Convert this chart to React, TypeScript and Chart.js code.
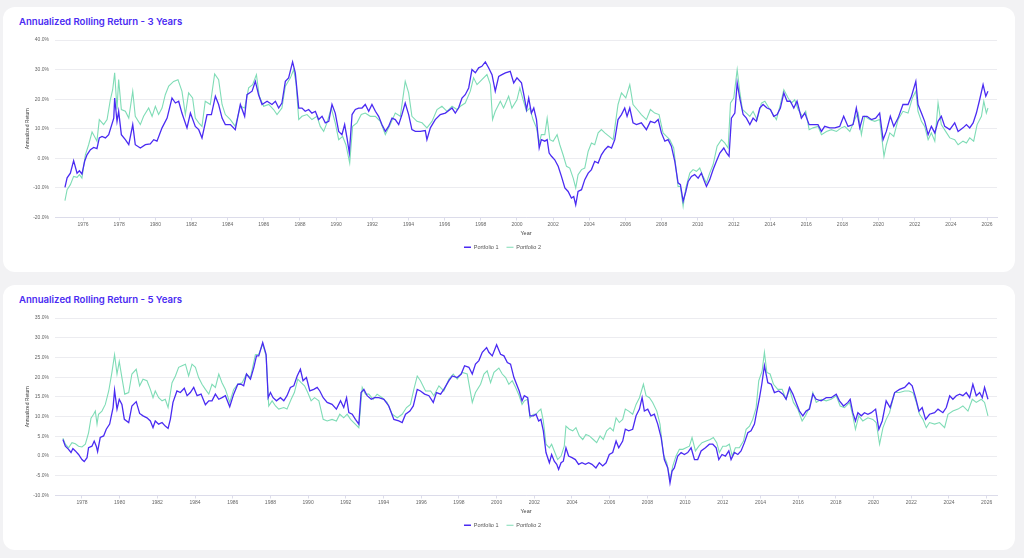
import React, { useEffect, useRef } from "react";
import { Chart, registerables } from "chart.js";

Chart.register(...registerables);

// ---------------- DATA ----------------
const seriesNames = ["Portfolio 1", "Portfolio 2"];

const chartTitles = [
  "Annualized Rolling Return - 3 Years",
  "Annualized Rolling Return - 5 Years",
];

const yearTicks3 = [1976, 1978, 1980, 1982, 1984, 1986, 1988, 1990, 1992, 1994, 1996, 1998, 2000, 2002, 2004, 2006, 2008, 2010, 2012, 2014, 2016, 2018, 2020, 2022, 2024, 2026];
const yearTicks5 = [1978, 1980, 1982, 1984, 1986, 1988, 1990, 1992, 1994, 1996, 1998, 2000, 2002, 2004, 2006, 2008, 2010, 2012, 2014, 2016, 2018, 2020, 2022, 2024, 2026];

// [year, annualized return %]
const p1Rolling3: [number, number][] = [
  [1975.00,-9.8],[1975.12,-6.6],[1975.30,-5.0],[1975.48,-0.8],[1975.67,-5.0],[1975.80,-4.2],[1975.94,-5.3],[1976.09,-1.0],[1976.22,1.2],[1976.41,2.9],[1976.59,3.7],[1976.77,3.3],[1976.90,6.9],[1977.05,7.4],[1977.24,6.9],[1977.42,8.0],[1977.70,13.6],[1977.75,20.4],[1977.88,12.5],[1977.97,15.9],[1978.12,8.0],[1978.34,6.3],[1978.53,4.6],[1978.75,11.4],[1978.89,4.6],[1979.17,3.5],[1979.45,4.6],[1979.72,4.9],[1979.91,6.3],[1980.09,5.8],[1980.37,10.3],[1980.65,13.6],[1980.92,20.4],[1981.11,18.7],[1981.29,19.3],[1981.47,15.3],[1981.75,10.3],[1981.94,15.3],[1982.21,10.8],[1982.40,9.7],[1982.58,6.9],[1982.86,14.8],[1983.10,14.8],[1983.32,21.0],[1983.50,18.2],[1983.69,13.6],[1983.87,11.4],[1984.15,11.4],[1984.42,9.7],[1984.70,18.2],[1984.94,14.2],[1985.07,21.5],[1985.35,22.7],[1985.53,26.0],[1985.71,21.5],[1985.90,18.2],[1986.18,19.3],[1986.45,18.2],[1986.64,19.3],[1986.82,17.0],[1987.00,18.7],[1987.19,26.0],[1987.37,27.2],[1987.59,32.6],[1987.74,28.9],[1987.93,17.0],[1988.11,17.0],[1988.29,15.9],[1988.48,16.5],[1988.66,15.3],[1988.85,15.9],[1989.03,13.1],[1989.22,14.2],[1989.40,12.0],[1989.59,12.5],[1989.77,18.2],[1989.95,15.3],[1990.14,9.1],[1990.32,8.0],[1990.47,11.4],[1990.60,6.9],[1990.73,1.8],[1990.88,14.8],[1991.06,16.5],[1991.24,17.0],[1991.43,17.0],[1991.61,18.2],[1991.80,15.9],[1991.98,18.2],[1992.17,15.9],[1992.35,14.2],[1992.53,11.4],[1992.72,9.1],[1992.90,10.8],[1993.09,13.6],[1993.27,13.1],[1993.46,11.4],[1993.64,14.8],[1993.82,18.7],[1994.01,14.8],[1994.19,9.7],[1994.38,9.1],[1994.65,9.1],[1994.93,9.4],[1995.02,6.3],[1995.21,10.3],[1995.48,13.1],[1995.76,14.8],[1996.04,15.3],[1996.41,17.0],[1996.59,15.3],[1996.77,17.0],[1996.96,20.4],[1997.14,21.5],[1997.33,23.8],[1997.51,30.0],[1997.70,28.9],[1997.88,30.6],[1998.06,31.1],[1998.25,32.6],[1998.43,30.6],[1998.62,28.3],[1998.80,22.7],[1998.99,27.7],[1999.17,28.3],[1999.36,28.9],[1999.63,29.4],[1999.82,25.5],[2000.00,27.2],
  [2000.25,25.5],[2000.38,21.5],[2000.53,16.5],[2000.65,20.4],[2000.80,15.3],[2000.93,17.0],[2001.08,13.1],[2001.23,3.5],[2001.35,6.3],[2001.54,5.8],[2001.67,6.3],[2001.78,1.8],[2001.91,0.7],[2002.09,-0.5],[2002.28,-2.7],[2002.46,-6.1],[2002.65,-10.0],[2002.83,-11.2],[2003.01,-13.4],[2003.14,-12.9],[2003.25,-15.7],[2003.38,-11.2],[2003.57,-10.6],[2003.75,-7.2],[2003.94,-5.0],[2004.12,-3.8],[2004.30,-1.0],[2004.49,-1.6],[2004.67,1.2],[2004.86,2.9],[2005.04,4.1],[2005.23,3.5],[2005.41,6.3],[2005.59,13.1],[2005.78,14.8],[2005.96,17.0],[2006.09,14.2],[2006.24,17.0],[2006.42,12.0],[2006.61,11.4],[2006.88,12.0],[2007.16,9.7],[2007.38,12.5],[2007.62,12.0],[2007.81,13.1],[2007.99,8.6],[2008.18,5.8],[2008.36,6.3],[2008.54,4.1],[2008.73,-1.0],[2008.91,-8.3],[2009.04,-8.9],[2009.19,-14.5],[2009.34,-11.2],[2009.47,-7.8],[2009.65,-6.1],[2009.83,-5.5],[2010.02,-6.7],[2010.20,-5.0],[2010.33,-7.2],[2010.48,-9.5],[2010.66,-7.2],[2010.85,-3.8],[2011.03,-1.0],[2011.22,1.8],[2011.44,3.5],[2011.59,1.8],[2011.73,0.7],[2011.86,13.6],[2012.05,15.3],[2012.18,25.5],[2012.32,20.4],[2012.51,14.8],[2012.69,13.6],[2012.88,11.4],[2013.06,13.6],[2013.24,12.5],[2013.43,17.0],[2013.61,18.2],[2013.83,17.0],[2014.02,16.5],[2014.20,14.2],[2014.39,14.8],[2014.57,17.0],[2014.76,22.1],[2014.94,19.3],[2015.12,19.3],[2015.31,17.0],[2015.49,19.3],[2015.73,13.6],[2015.92,15.3],[2016.16,11.4],[2016.38,11.4],[2016.65,11.4],[2016.84,9.1],[2017.02,10.8],[2017.30,10.3],[2017.58,10.3],[2017.85,10.8],[2018.07,14.2],[2018.31,10.8],[2018.59,11.4],[2018.77,17.0],[2018.96,10.3],[2019.14,14.2],[2019.36,14.2],[2019.60,13.1],[2019.84,13.6],[2020.06,15.3],[2020.25,6.3],[2020.43,9.1],[2020.65,14.2],[2020.84,10.8],[2021.08,13.6],[2021.35,18.2],[2021.63,18.2],[2021.82,21.0],[2022.06,26.0],[2022.18,18.2],[2022.37,15.3],[2022.55,12.5],[2022.74,8.0],[2022.92,10.8],[2023.11,8.6],[2023.29,12.5],[2023.47,14.2],[2023.66,10.8],[2023.94,9.7],[2024.21,12.0],[2024.40,9.1],[2024.67,10.3],[2024.86,11.4],[2025.04,10.3],[2025.23,12.0],[2025.41,15.3],[2025.59,19.8],[2025.78,24.9],[2025.93,21.0],[2026.05,22.7],
];

const p2Rolling3: [number, number][] = [
  [1975.00,-14.3],[1975.12,-10.6],[1975.30,-8.9],[1975.48,-6.1],[1975.67,-6.4],[1975.80,-5.5],[1975.94,-6.7],[1976.13,1.2],[1976.31,4.6],[1976.50,8.9],[1976.68,6.9],[1976.77,5.8],[1976.90,13.1],[1977.14,11.4],[1977.33,13.1],[1977.51,19.8],[1977.64,23.2],[1977.75,28.9],[1977.88,16.5],[1977.97,26.6],[1978.12,16.5],[1978.34,15.9],[1978.53,13.6],[1978.75,22.7],[1978.89,14.2],[1979.17,11.4],[1979.35,14.2],[1979.63,17.0],[1979.82,14.2],[1980.00,17.6],[1980.18,14.8],[1980.37,17.0],[1980.55,21.5],[1980.74,24.4],[1981.01,26.0],[1981.25,26.6],[1981.47,22.7],[1981.66,14.8],[1981.84,22.1],[1982.06,20.4],[1982.21,13.6],[1982.40,12.0],[1982.58,10.8],[1982.76,19.3],[1983.04,18.2],[1983.28,28.5],[1983.50,26.6],[1983.69,18.2],[1983.87,14.8],[1984.15,13.1],[1984.42,10.8],[1984.70,17.6],[1984.94,17.0],[1985.16,23.8],[1985.38,24.9],[1985.59,28.3],[1985.75,21.0],[1985.99,17.6],[1986.27,18.2],[1986.54,16.5],[1986.73,14.8],[1987.00,17.0],[1987.19,24.4],[1987.47,27.2],[1987.65,30.0],[1987.78,25.5],[1987.93,13.1],[1988.11,14.2],[1988.39,14.8],[1988.66,13.1],[1988.94,14.2],[1989.12,10.8],[1989.31,9.1],[1989.49,12.0],[1989.73,17.0],[1989.95,12.0],[1990.14,6.3],[1990.36,7.4],[1990.54,4.6],[1990.75,-1.6],[1990.91,10.8],[1991.15,12.0],[1991.39,14.8],[1991.61,15.3],[1991.89,14.2],[1992.17,14.2],[1992.44,12.5],[1992.72,8.0],[1992.99,11.4],[1993.27,15.3],[1993.55,14.2],[1993.82,26.0],[1994.01,22.1],[1994.19,14.2],[1994.47,12.5],[1994.75,12.0],[1995.02,10.3],[1995.30,12.5],[1995.58,16.5],[1995.85,17.6],[1996.13,15.9],[1996.41,17.6],[1996.68,16.5],[1996.87,17.6],[1997.14,18.7],[1997.42,22.7],[1997.60,27.2],[1997.79,24.9],[1998.06,26.6],[1998.34,28.3],[1998.53,24.9],[1998.65,13.1],[1998.80,15.9],[1999.08,19.3],[1999.26,17.0],[1999.54,21.0],[1999.72,17.0],[2000.00,19.8],
  [2000.16,23.8],[2000.34,19.8],[2000.53,15.9],[2000.71,17.0],[2000.89,13.1],[2001.08,10.3],[2001.23,5.2],[2001.35,8.0],[2001.54,8.0],[2001.67,13.6],[2001.82,6.3],[2002.00,5.8],[2002.22,8.0],[2002.37,4.6],[2002.55,1.2],[2002.74,-2.7],[2002.92,-3.3],[2003.11,-6.7],[2003.25,-10.0],[2003.38,-5.5],[2003.57,-3.8],[2003.75,-3.3],[2003.94,2.4],[2004.12,5.2],[2004.30,4.6],[2004.49,8.6],[2004.67,9.7],[2004.86,8.6],[2005.10,7.4],[2005.32,6.3],[2005.59,18.2],[2005.78,22.1],[2006.02,20.4],[2006.24,24.9],[2006.42,18.2],[2006.65,16.5],[2006.88,14.8],[2007.16,13.1],[2007.38,16.5],[2007.62,15.3],[2007.86,14.8],[2008.08,8.6],[2008.27,7.4],[2008.45,6.3],[2008.67,3.5],[2008.91,-9.5],[2009.04,-9.5],[2009.19,-16.2],[2009.34,-10.0],[2009.56,-5.0],[2009.74,-3.8],[2009.93,-4.4],[2010.11,-3.3],[2010.29,-6.1],[2010.48,-8.3],[2010.66,-5.0],[2010.85,-2.1],[2011.07,4.1],[2011.31,6.3],[2011.49,5.2],[2011.68,3.5],[2011.81,18.7],[2011.99,20.4],[2012.18,30.0],[2012.32,22.7],[2012.47,16.5],[2012.69,15.3],[2012.88,14.2],[2013.06,15.9],[2013.28,13.1],[2013.52,18.7],[2013.71,19.3],[2013.94,17.0],[2014.17,14.8],[2014.35,13.1],[2014.57,18.2],[2014.76,23.2],[2015.00,20.4],[2015.18,18.7],[2015.36,19.8],[2015.55,16.5],[2015.79,14.2],[2015.97,15.9],[2016.16,9.7],[2016.38,10.3],[2016.65,10.8],[2016.84,8.0],[2017.12,9.1],[2017.39,9.7],[2017.67,9.1],[2017.94,10.3],[2018.13,10.8],[2018.41,9.1],[2018.68,13.1],[2018.87,15.3],[2019.05,8.0],[2019.23,14.2],[2019.51,13.1],[2019.79,12.5],[2020.06,13.1],[2020.30,0.7],[2020.43,4.6],[2020.62,8.6],[2020.84,7.4],[2021.08,13.1],[2021.35,15.9],[2021.63,15.3],[2021.87,20.4],[2022.06,22.7],[2022.18,15.9],[2022.37,12.5],[2022.55,10.8],[2022.74,6.3],[2022.92,8.6],[2023.11,5.8],[2023.29,18.7],[2023.47,11.4],[2023.71,9.1],[2023.94,6.9],[2024.21,6.3],[2024.40,4.6],[2024.67,5.8],[2024.86,5.2],[2025.04,6.9],[2025.26,5.8],[2025.45,11.4],[2025.69,14.2],[2025.82,19.3],[2025.96,15.3],[2026.05,17.0],
];

const p1Rolling5: [number, number][] = [
  [1976.99,4.2],[1977.12,2.5],[1977.29,1.7],[1977.42,0.9],[1977.52,1.9],[1977.65,1.3],[1977.82,0.4],[1978.00,-0.9],[1978.12,-1.4],[1978.27,-0.4],[1978.35,2.1],[1978.53,2.5],[1978.65,3.8],[1978.76,2.5],[1978.83,1.1],[1978.97,4.7],[1979.15,5.1],[1979.29,6.8],[1979.47,8.1],[1979.65,12.3],[1979.73,16.7],[1979.86,11.9],[1979.98,14.4],[1980.12,13.1],[1980.25,9.3],[1980.48,8.5],[1980.65,12.7],[1980.88,13.8],[1981.06,10.8],[1981.24,10.2],[1981.45,9.7],[1981.63,8.9],[1981.77,7.2],[1981.89,8.9],[1982.07,8.1],[1982.25,8.5],[1982.42,7.6],[1982.57,7.0],[1982.69,9.3],[1982.83,13.6],[1983.04,16.5],[1983.22,16.1],[1983.43,17.2],[1983.58,15.3],[1983.75,16.1],[1983.93,17.4],[1984.11,15.3],[1984.32,15.7],[1984.55,13.0],[1984.73,14.0],[1984.90,14.0],[1985.08,15.7],[1985.26,14.4],[1985.43,14.8],[1985.61,15.3],[1985.84,12.5],[1986.05,15.7],[1986.27,18.2],[1986.44,18.2],[1986.58,17.8],[1986.73,20.8],[1986.94,19.5],[1987.12,22.5],[1987.26,25.4],[1987.38,25.4],[1987.59,28.8],[1987.77,25.8],[1987.88,14.8],[1988.00,16.1],[1988.14,14.8],[1988.32,14.0],[1988.53,14.8],[1988.71,14.0],[1988.88,15.3],[1989.06,17.4],[1989.24,17.8],[1989.42,20.3],[1989.59,22.0],[1989.73,19.1],[1989.91,19.9],[1990.09,16.5],[1990.30,16.9],[1990.48,17.4],[1990.62,16.5],[1990.80,14.8],[1991.01,13.6],[1991.27,13.1],[1991.50,11.9],[1991.72,14.0],[1991.89,12.3],[1992.04,14.8],[1992.16,11.0],[1992.34,10.6],[1992.51,9.3],[1992.69,8.1],[1992.81,16.1],[1992.96,16.9],[1993.13,15.3],[1993.35,14.4],[1993.52,14.8],[1993.75,14.8],[1994.02,14.4],[1994.28,12.7],[1994.55,9.3],[1994.81,8.9],[1994.99,8.5],[1995.17,10.6],[1995.40,11.4],[1995.58,12.7],[1995.79,16.9],[1995.96,16.5],[1996.18,15.7],[1996.41,15.3],[1996.64,13.6],[1996.81,16.1],[1997.03,15.7],[1997.20,16.9],[1997.47,19.1],[1997.65,20.3],[1997.91,19.9],[1998.12,20.8],[1998.30,22.9],[1998.53,22.5],[1998.71,20.8],[1998.88,23.3],[1999.06,24.2],[1999.24,26.3],[1999.47,27.5],[1999.59,26.3],[1999.77,25.4],[2000.00,28.2],[2000.21,25.8],[2000.39,25.4],[2000.57,23.7],[2000.74,23.3],[2000.92,19.9],
  [2001.20,16.5],[2001.35,14.0],[2001.47,15.3],[2001.65,14.8],[2001.77,10.2],[2001.95,10.2],[2002.09,10.6],[2002.23,8.9],[2002.35,9.3],[2002.48,6.4],[2002.62,0.9],[2002.80,-1.7],[2002.92,0.4],[2003.06,-1.3],[2003.19,-2.1],[2003.29,-3.4],[2003.42,-1.7],[2003.54,-1.3],[2003.68,2.1],[2003.82,0.0],[2004.00,-0.4],[2004.18,-0.9],[2004.35,-2.1],[2004.53,-1.7],[2004.71,-2.1],[2004.88,-1.7],[2005.06,-2.1],[2005.27,-3.0],[2005.45,-1.7],[2005.63,-2.5],[2005.81,-1.7],[2005.98,0.4],[2006.16,0.9],[2006.34,3.8],[2006.48,2.1],[2006.69,3.8],[2006.83,6.8],[2007.01,6.4],[2007.22,6.8],[2007.40,10.2],[2007.58,11.9],[2007.72,14.8],[2007.84,11.4],[2008.02,11.9],[2008.19,10.2],[2008.37,10.6],[2008.55,8.1],[2008.73,4.7],[2008.90,-0.9],[2009.08,-3.0],[2009.20,-6.8],[2009.31,-3.8],[2009.43,-3.0],[2009.61,0.0],[2009.79,0.9],[2009.96,0.4],[2010.14,0.9],[2010.32,2.1],[2010.50,-0.9],[2010.67,-0.9],[2010.85,1.3],[2011.08,2.1],[2011.29,3.0],[2011.47,3.0],[2011.65,2.1],[2011.79,-0.9],[2011.96,0.4],[2012.14,0.0],[2012.32,1.3],[2012.44,-0.9],[2012.62,0.9],[2012.80,0.4],[2012.97,1.3],[2013.15,3.4],[2013.33,5.9],[2013.50,6.4],[2013.68,8.1],[2013.81,11.4],[2013.95,14.8],[2014.07,18.2],[2014.21,22.9],[2014.39,18.6],[2014.57,18.2],[2014.74,16.1],[2014.97,16.5],[2015.19,15.7],[2015.36,14.4],[2015.54,17.4],[2015.72,15.7],[2015.89,13.6],[2016.07,11.4],[2016.25,10.2],[2016.42,11.4],[2016.60,11.9],[2016.78,15.7],[2016.96,14.4],[2017.22,14.0],[2017.49,14.8],[2017.75,14.8],[2018.02,15.7],[2018.19,14.0],[2018.41,12.7],[2018.64,13.6],[2018.76,14.4],[2018.90,11.0],[2019.04,8.9],[2019.17,11.0],[2019.35,10.2],[2019.52,11.0],[2019.70,10.6],[2019.88,11.0],[2020.11,11.9],[2020.28,6.8],[2020.46,8.9],[2020.67,14.0],[2020.88,12.3],[2021.12,16.1],[2021.38,16.9],[2021.65,17.4],[2021.88,18.6],[2022.05,17.8],[2022.23,14.8],[2022.41,11.4],[2022.58,12.3],[2022.76,9.3],[2022.97,10.6],[2023.24,11.0],[2023.42,11.9],[2023.68,11.0],[2023.86,12.3],[2024.04,15.3],[2024.21,14.4],[2024.39,15.3],[2024.57,15.7],[2024.74,15.3],[2024.92,16.1],[2025.10,14.8],[2025.27,18.2],[2025.45,15.3],[2025.63,16.1],[2025.77,14.8],[2025.89,17.4],[2026.07,14.4],
];

const p2Rolling5: [number, number][] = [
  [1976.99,4.5],[1977.12,3.0],[1977.29,2.1],[1977.47,3.4],[1977.65,3.1],[1977.82,2.5],[1978.00,2.3],[1978.18,3.0],[1978.35,5.9],[1978.48,9.6],[1978.62,10.6],[1978.71,11.4],[1978.80,8.1],[1978.88,10.6],[1979.06,11.4],[1979.24,13.1],[1979.42,16.5],[1979.59,21.2],[1979.73,25.7],[1979.86,20.8],[1979.98,24.0],[1980.12,19.9],[1980.27,15.7],[1980.48,16.1],[1980.65,20.8],[1980.88,22.0],[1981.06,17.8],[1981.24,19.5],[1981.45,19.1],[1981.63,16.9],[1981.77,14.8],[1981.89,16.5],[1982.07,14.8],[1982.25,14.0],[1982.42,14.4],[1982.57,12.3],[1982.78,18.6],[1982.96,20.3],[1983.13,22.5],[1983.31,22.9],[1983.49,23.3],[1983.66,20.3],[1983.84,23.3],[1984.02,22.5],[1984.19,19.9],[1984.37,18.2],[1984.55,16.9],[1984.73,15.7],[1984.90,18.2],[1985.08,17.4],[1985.26,20.8],[1985.43,18.6],[1985.61,16.9],[1985.84,13.6],[1986.05,16.9],[1986.27,18.2],[1986.50,18.6],[1986.73,20.8],[1986.94,19.9],[1987.20,25.7],[1987.38,25.8],[1987.59,28.4],[1987.77,25.4],[1987.91,12.7],[1988.09,14.0],[1988.27,12.7],[1988.44,11.9],[1988.71,12.3],[1988.88,11.9],[1989.10,14.4],[1989.27,16.1],[1989.45,19.5],[1989.63,18.6],[1989.81,17.8],[1989.98,16.1],[1990.16,14.0],[1990.34,14.8],[1990.57,14.0],[1990.80,9.3],[1991.01,8.9],[1991.27,9.3],[1991.50,8.9],[1991.68,10.6],[1991.89,9.7],[1992.07,10.6],[1992.25,9.3],[1992.42,8.5],[1992.69,7.2],[1992.87,17.4],[1993.04,15.7],[1993.22,15.7],[1993.45,14.4],[1993.66,15.7],[1993.93,14.8],[1994.19,13.6],[1994.46,10.6],[1994.73,9.7],[1994.99,10.6],[1995.22,12.3],[1995.43,13.1],[1995.61,16.9],[1995.79,20.3],[1995.96,19.1],[1996.23,16.5],[1996.50,16.5],[1996.67,15.3],[1996.94,17.8],[1997.20,16.5],[1997.47,19.5],[1997.70,20.8],[1997.91,19.5],[1998.18,21.2],[1998.44,20.8],[1998.71,13.6],[1998.88,16.1],[1999.15,18.2],[1999.33,20.8],[1999.50,21.6],[1999.68,18.6],[1999.86,21.2],[2000.12,22.3],[2000.30,20.8],[2000.48,19.9],[2000.65,18.2],[2000.83,19.1],[2001.01,17.4],
  [2001.20,15.3],[2001.35,13.1],[2001.47,14.0],[2001.65,14.4],[2001.77,9.7],[2001.95,10.6],[2002.09,10.6],[2002.23,11.4],[2002.35,11.9],[2002.48,8.9],[2002.62,3.0],[2002.80,2.1],[2002.92,3.0],[2003.06,1.3],[2003.24,-0.9],[2003.42,0.0],[2003.59,2.5],[2003.68,7.6],[2003.86,6.8],[2004.04,6.4],[2004.21,7.2],[2004.39,5.1],[2004.57,4.2],[2004.74,5.5],[2004.92,5.1],[2005.13,4.2],[2005.31,3.4],[2005.49,5.1],[2005.66,4.2],[2005.84,6.4],[2006.02,7.2],[2006.19,6.4],[2006.34,9.7],[2006.51,8.5],[2006.69,9.3],[2006.83,11.9],[2007.01,11.4],[2007.22,10.6],[2007.40,13.1],[2007.58,14.8],[2007.79,18.2],[2007.93,15.3],[2008.11,14.8],[2008.28,13.6],[2008.50,11.4],[2008.67,8.1],[2008.85,0.4],[2009.03,-1.7],[2009.20,-5.9],[2009.35,-2.5],[2009.52,0.0],[2009.70,1.7],[2009.88,1.7],[2010.05,2.1],[2010.23,2.5],[2010.37,4.7],[2010.55,1.3],[2010.73,2.5],[2010.90,3.4],[2011.12,3.8],[2011.33,4.2],[2011.50,4.7],[2011.68,3.4],[2011.82,0.9],[2012.00,2.5],[2012.18,2.5],[2012.35,3.0],[2012.50,0.0],[2012.67,2.1],[2012.88,2.1],[2013.10,3.8],[2013.24,6.8],[2013.42,7.6],[2013.59,9.3],[2013.77,12.3],[2013.91,19.1],[2014.09,21.6],[2014.21,26.3],[2014.34,21.2],[2014.51,20.8],[2014.69,18.2],[2014.92,16.9],[2015.15,16.9],[2015.36,14.4],[2015.54,16.9],[2015.75,13.6],[2015.98,11.9],[2016.21,8.9],[2016.39,10.2],[2016.60,12.3],[2016.78,16.1],[2016.96,13.6],[2017.22,14.4],[2017.49,14.0],[2017.75,14.4],[2018.02,15.3],[2018.23,12.7],[2018.46,12.3],[2018.73,13.6],[2018.90,10.2],[2019.04,6.8],[2019.22,10.2],[2019.43,8.9],[2019.70,9.7],[2019.96,9.3],[2020.14,8.5],[2020.32,3.0],[2020.50,7.2],[2020.67,9.3],[2020.85,11.0],[2021.12,16.1],[2021.38,16.1],[2021.65,16.5],[2021.88,16.5],[2022.09,16.1],[2022.27,13.6],[2022.44,10.6],[2022.62,9.3],[2022.80,7.2],[2022.97,8.5],[2023.24,8.1],[2023.50,8.5],[2023.77,7.2],[2023.95,10.6],[2024.21,11.4],[2024.48,11.9],[2024.74,12.7],[2025.01,11.4],[2025.24,14.4],[2025.45,13.6],[2025.72,14.4],[2025.89,13.6],[2026.07,10.2],
];

// ---------------- STYLE ----------------
const PURPLE = "#4a2bf2";
const GREEN = "#7fdcb6";
const TITLE_COLOR = "#4a2bf2";

type CardProps = {
  title: string;
  top: number;
  s1: [number, number][];
  s2: [number, number][];
  xMin: number;
  xMax: number;
  xTicks: number[];
  yMin: number;
  yMax: number;
  yStep: number;
};

function ChartCard(props: CardProps) {
  const ref = useRef<HTMLCanvasElement | null>(null);
  useEffect(() => {
    if (!ref.current) return;
    const chart = new Chart(ref.current, {
      type: "line",
      data: {
        datasets: [
          {
            label: seriesNames[0],
            data: props.s1.map(([x, y]) => ({ x, y })),
            borderColor: PURPLE,
            backgroundColor: PURPLE,
            borderWidth: 1.3,
            pointRadius: 0,
            tension: 0,
          },
          {
            label: seriesNames[1],
            data: props.s2.map(([x, y]) => ({ x, y })),
            borderColor: GREEN,
            backgroundColor: GREEN,
            borderWidth: 1.1,
            pointRadius: 0,
            tension: 0,
          },
        ],
      },
      options: {
        animation: false,
        responsive: true,
        maintainAspectRatio: false,
        layout: { padding: { top: 10, right: 13, left: 0, bottom: 0 } },
        plugins: {
          tooltip: { enabled: false },
          legend: {
            position: "bottom",
            labels: {
              usePointStyle: true,
              pointStyle: "line",
              pointStyleWidth: 7,
              boxHeight: 5,
              padding: 8,
              color: "#555",
              font: { size: 5.5 },
            },
          },
        },
        scales: {
          x: {
            type: "linear",
            min: props.xMin,
            max: props.xMax,
            afterBuildTicks: (s: any) => {
              s.ticks = props.xTicks.map((v) => ({ value: v }));
            },
            afterFit: (s: any) => {
              s.height = 19;
            },
            ticks: {
              autoSkip: false,
              maxRotation: 0,
              padding: 1,
              color: "#666",
              font: { size: 5 },
              callback: (v: any) => String(v),
            },
            grid: {
              drawOnChartArea: false,
              drawTicks: true,
              tickLength: 3,
              color: "#dcdcea",
            },
            border: { display: true, color: "#dcdcea" },
            title: {
              display: true,
              text: "Year",
              color: "#444",
              font: { size: 5.5 },
              padding: 0,
            },
          },
          y: {
            min: props.yMin,
            max: props.yMax,
            afterFit: (s: any) => {
              s.width = 47;
            },
            ticks: {
              stepSize: props.yStep,
              padding: 6,
              color: "#666",
              font: { size: 5 },
              callback: (v: any) => Number(v).toFixed(1) + "%",
            },
            grid: { color: "#ececf0", drawTicks: false },
            border: { display: false },
            title: {
              display: true,
              text: "Annualized Return",
              color: "#444",
              font: { size: 5 },
              padding: { top: 17, bottom: 0 },
            },
          },
        },
      },
    } as any);
    return () => chart.destroy();
  }, []);

  return (
    <>
      <div
        style={{
          position: "absolute",
          left: 3,
          top: props.top - 23,
          width: 1012,
          height: 265,
          background: "#ffffff",
          borderRadius: 12,
        }}
      >
        <div
          style={{
            position: "absolute",
            left: 16,
            top: 8,
            height: 14,
            lineHeight: "14px",
            fontFamily: "Inter, 'Noto Sans', sans-serif",
            fontWeight: 600,
            fontSize: 9.6,
            color: TITLE_COLOR,
            whiteSpace: "nowrap",
          }}
        >
          {props.title}
        </div>
      </div>
      <div
        style={{
          position: "absolute",
          left: 8,
          top: props.top,
          width: 1002,
          height: 230,
        }}
      >
        <canvas ref={ref} />
      </div>
    </>
  );
}

export default function App() {
  return (
    <div
      style={{
        position: "absolute",
        left: 0,
        top: 0,
        width: 1024,
        height: 558,
        background: "#f2f2f4",
        overflow: "hidden",
      }}
    >
      <ChartCard
        title={chartTitles[0]}
        top={30}
        s1={p1Rolling3}
        s2={p2Rolling3}
        xMin={1974.45}
        xMax={2026.55}
        xTicks={yearTicks3}
        yMin={-20}
        yMax={40}
        yStep={10}
      />
      <ChartCard
        title={chartTitles[1]}
        top={308}
        s1={p1Rolling5}
        s2={p2Rolling5}
        xMin={1976.57}
        xMax={2026.55}
        xTicks={yearTicks5}
        yMin={-10}
        yMax={35}
        yStep={5}
      />
    </div>
  );
}
